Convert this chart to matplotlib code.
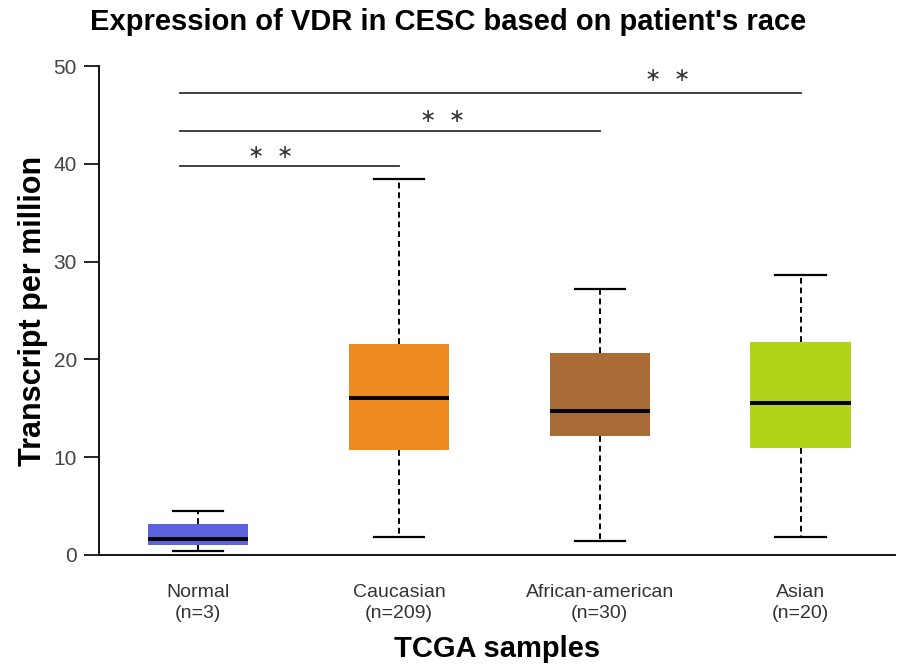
import matplotlib.pyplot as plt

# box statistics per group (whisker low, Q1, median, Q3, whisker high)
groups = ["Normal\n(n=3)", "Caucasian\n(n=209)", "African-american\n(n=30)", "Asian\n(n=20)"]
whislo = [0.4, 1.8, 1.4, 1.8]
q1 = [1.0, 10.7, 12.2, 10.9]
med = [1.6, 16.1, 14.7, 15.5]
q3 = [3.2, 21.6, 20.7, 21.8]
whishi = [4.5, 38.4, 27.2, 28.6]
colors = ["#5a62e0", "#ee8a1f", "#a96c36", "#b0d41a"]

# significance brackets: from Normal to the group at x_end
sig_end = [2, 3, 4]
sig_y = [39.8, 43.4, 47.2]
sig_text_x = [1.36, 2.22, 3.34]
sig_text_y = [41.2, 44.8, 49.0]

plt.rcParams['font.family'] = ['Liberation Sans', 'DejaVu Sans']

fig = plt.figure(figsize=(8.97, 6.70), dpi=100)
ax = fig.add_axes([99 / 897, 115 / 670, 796 / 897, 489 / 670])

stats = []
for i in range(len(groups)):
    stats.append(dict(whislo=whislo[i], q1=q1[i], med=med[i], q3=q3[i], whishi=whishi[i], fliers=[]))

bp = ax.bxp(stats, positions=[1, 2, 3, 4], widths=0.5, patch_artist=True, showfliers=False,
            capwidths=0.25,
            medianprops=dict(color="black", linewidth=2.8, solid_capstyle="butt"),
            whiskerprops=dict(color="black", linewidth=1.4, linestyle=(0, (3, 2))),
            capprops=dict(color="black", linewidth=1.6),
            boxprops=dict(linewidth=0))
for patch, c in zip(bp["boxes"], colors):
    patch.set_facecolor(c)
    patch.set_edgecolor(c)

for xe, y, tx, ty in zip(sig_end, sig_y, sig_text_x, sig_text_y):
    ax.plot([0.91, xe], [y, y], color="#333333", linewidth=1.3, clip_on=False)
    ax.text(tx, ty, "\u2217  \u2217", ha="center", va="center", fontsize=14, color="#333333",
            family="DejaVu Sans", clip_on=False)

ax.set_xlim(0.507, 4.47)
ax.set_ylim(0, 50)
ax.set_yticks([0, 10, 20, 30, 40, 50])
ax.set_xticks([1, 2, 3, 4])
ax.set_xticklabels(groups, fontsize=14, color="#333333", linespacing=1.3)
ax.tick_params(axis="y", length=11, width=1.2, labelsize=15, labelcolor="#444444", pad=5)
ax.tick_params(axis="x", length=0, pad=21)

for s in ["top", "right"]:
    ax.spines[s].set_visible(False)
ax.spines["left"].set_linewidth(1.3)
ax.spines["bottom"].set_linewidth(1.3)

ax.set_ylabel("Transcript per million", fontsize=22, fontweight="bold", labelpad=4)
ax.set_xlabel("TCGA samples", fontsize=21, fontweight="bold", labelpad=9)
fig.text(0.5, 0.967, "Expression of VDR in CESC based on patient's race", ha="center", va="center",
         fontsize=21, fontweight="bold")

fig.savefig("out.png", dpi=100)
